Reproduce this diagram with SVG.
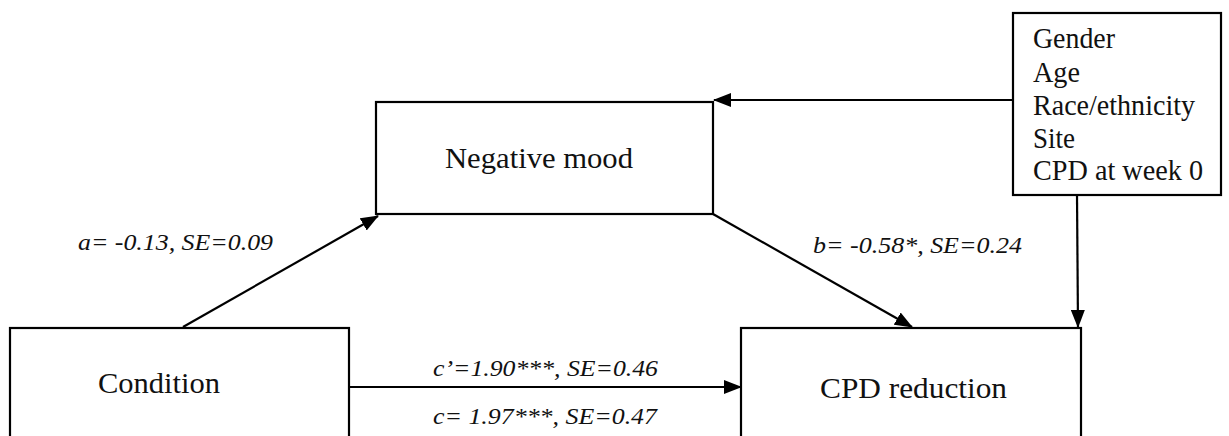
<svg xmlns="http://www.w3.org/2000/svg" width="1229" height="436" viewBox="0 0 1229 436">
<defs>
<marker id="ah" markerWidth="18" markerHeight="14" refX="17" refY="7" orient="auto" markerUnits="userSpaceOnUse">
<path d="M0,0 L18,7 L0,14 Z" fill="#000"/>
</marker>
<style>
.box{fill:#fff;stroke:#000;stroke-width:2.2}
.c{stroke:#000;stroke-width:2.2;fill:none;marker-end:url(#ah)}
</style>
</defs>
<rect width="1229" height="436" fill="#fff"/>
<g font-family="Liberation Serif, DejaVu Serif, serif" font-size="29" fill="#111">
<g id="negative-mood">
<rect class="box" x="376" y="102" width="337" height="112"/>
<text x="445" y="168" textLength="188" lengthAdjust="spacingAndGlyphs">Negative mood</text>
</g>
<g id="covariates">
<rect class="box" x="1013" y="13" width="208" height="182"/>
<text x="1033" y="48" textLength="82" lengthAdjust="spacingAndGlyphs">Gender</text>
<text x="1033" y="82" textLength="47" lengthAdjust="spacingAndGlyphs">Age</text>
<text x="1033" y="115" textLength="162" lengthAdjust="spacingAndGlyphs">Race/ethnicity</text>
<text x="1033" y="148" textLength="42" lengthAdjust="spacingAndGlyphs">Site</text>
<text x="1033" y="180" textLength="170" lengthAdjust="spacingAndGlyphs">CPD at week 0</text>
</g>
<g id="condition">
<rect class="box" x="10" y="328" width="339" height="120"/>
<text x="98" y="393" textLength="122" lengthAdjust="spacingAndGlyphs">Condition</text>
</g>
<g id="cpd-reduction">
<rect class="box" x="741" y="328" width="340" height="120"/>
<text x="820" y="398" textLength="187" lengthAdjust="spacingAndGlyphs">CPD reduction</text>
</g>
<g id="connectors">
<line class="c" x1="1013" y1="100" x2="714" y2="100"/>
<line class="c" x1="1077" y1="195" x2="1078" y2="327"/>
<line class="c" x1="183" y1="327" x2="378" y2="216"/>
<line class="c" x1="713" y1="214" x2="912" y2="327"/>
<line class="c" x1="349" y1="387" x2="741" y2="387"/>
</g>
<g id="labels" font-style="italic" font-size="23">
<text x="78" y="250" textLength="195" lengthAdjust="spacingAndGlyphs">a= -0.13, SE=0.09</text>
<text x="813" y="253" textLength="209" lengthAdjust="spacingAndGlyphs">b= -0.58*, SE=0.24</text>
<text x="433" y="376" textLength="225" lengthAdjust="spacingAndGlyphs">c’=1.90***, SE=0.46</text>
<text x="433" y="424" textLength="224" lengthAdjust="spacingAndGlyphs">c= 1.97***, SE=0.47</text>
</g>
</g>
</svg>
